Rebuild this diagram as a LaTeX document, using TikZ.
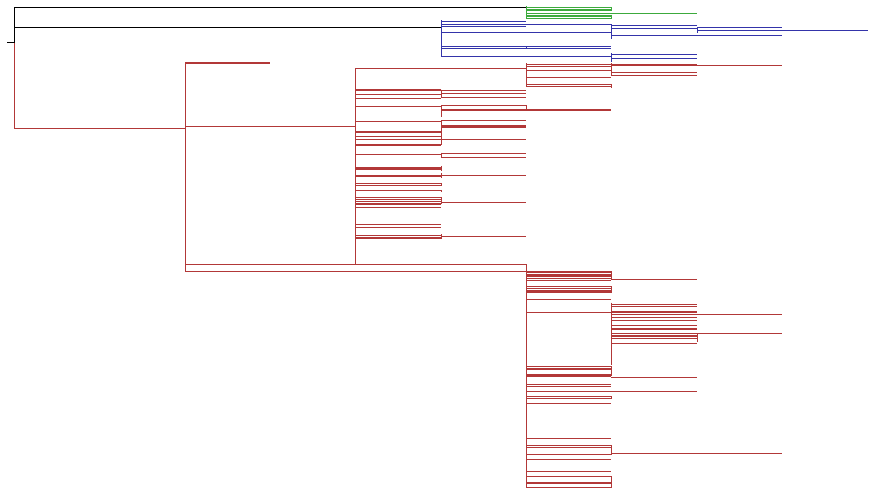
\documentclass[tikz,border=0pt]{standalone}
\definecolor{cladered}{RGB}{178,56,56}
\definecolor{cladeblue}{RGB}{52,52,170}
\definecolor{cladegreen}{RGB}{60,170,60}
\usetikzlibrary{positioning}
\tikzstyle{rootbr} = [
    draw=black,
    line width=1pt
]
\tikzstyle{redbr} = [
    draw=cladered,
    line width=1pt
]
\tikzstyle{bluebr} = [
    draw=cladeblue,
    line width=1pt
]
\tikzstyle{greenbr} = [
    draw=cladegreen,
    line width=1pt
]
\tikzstyle{dup} = [
    line width=2.2pt
]

\begin{document}
\begin{tikzpicture}[x=1pt, y=-1pt]
    \useasboundingbox (0,0) rectangle (874,494);

    % Root and backbone
    \coordinate (root) at (7,43);
    \coordinate (rootv) at (14,43);
    \draw[rootbr] (root) -- (rootv);
    \draw[rootbr] (14,8) -- (rootv);
    \draw[redbr] (rootv) -- (14,129);
    \draw[rootbr] (14,8) -- (526,8);
    \draw[rootbr] (14,28) -- (441,28);
    \draw[redbr] (14,129) -- (185,129);

    % Green clade
    \draw[greenbr] (526,6) -- (526,19.3);
    \foreach \y in {7.3,19}
        \draw[greenbr] (526,\y) -- (611,\y);
    \foreach \y in {10.3,16}
        \draw[greenbr, dup] (526,\y) -- (611,\y);
    \draw[greenbr] (526,13.3) -- (697,13.3);
    \draw[greenbr] (611,7.3) -- (611,11);
    \draw[greenbr] (611,14.7) -- (611,19.3);

    % Blue clade
    \draw[bluebr] (441,20.3) -- (441,56.3);
    \foreach \y in {21.3,26.3}
        \draw[bluebr] (441,\y) -- (526,\y);
    \foreach \y in {24.3,32.3,46.5,49,56.3}
        \draw[bluebr] (441,\y) -- (611,\y);
    \draw[bluebr] (526,46.3) -- (526,49.3);
    \draw[bluebr] (611,24.3) -- (611,39.3);
    \foreach \y in {25.3,28.3}
        \draw[bluebr] (611,\y) -- (697,\y);
    \draw[bluebr] (611,35.3) -- (782,35.3);
    \draw[bluebr] (697,27.3) -- (697,33.3);
    \draw[bluebr] (697,27.3) -- (782,27.3);
    \draw[bluebr] (697,30.3) -- (868,30.3);
    \draw[bluebr] (611,53.3) -- (611,61.7);
    \foreach \y in {54.3,58.3}
        \draw[bluebr] (611,\y) -- (697,\y);

    % Red clade, upper part
    \draw[redbr] (185,62.3) -- (185,271.3);
    \draw[redbr, dup] (185,62.8) -- (270,62.8);
    \draw[redbr] (185,126.3) -- (355,126.3);
    \draw[redbr] (355,68.3) -- (355,264);
    \draw[redbr] (355,68.3) -- (526,68.3);
    \draw[redbr] (526,63.3) -- (526,87);
    \foreach \y in {66.3,70.3,77.3,84.3,87}
        \draw[redbr] (526,\y) -- (611,\y);
    \draw[redbr] (526,64.3) -- (611,64.3);
    \draw[redbr] (611,63.3) -- (611,75.3);
    \draw[redbr, dup] (611,65.3) -- (697,65.3);
    \draw[redbr] (697,65.3) -- (782,65.3);
    \foreach \y in {72.3,75.3}
        \draw[redbr] (611,\y) -- (697,\y);
    \draw[redbr] (611,84) -- (611,88);

    % Red clade, leaves off 355
    \foreach \y in {95,99,107,122,136.7,139.3,154.3,170,183.7,185.7,191,
                    197.3,199.3,201.3,208,224,227,235.3}
        \draw[redbr] (355,\y) -- (441,\y);
    \foreach \y in {89.7,132.3,144.7,167.7,176.3,203.7,238.3}
        \draw[redbr, dup] (355,\y) -- (441,\y);
    \foreach \a/\b in {89.7/97.3,105.3/116.7,120.3/140,130/145,152.7/157.3,
                       166/171,173.3/178.3,183/186,190/192,197/204,234/239}
        \draw[redbr] (441,\a) -- (441,\b);
    \foreach \y in {90.3,93.3,97.3,105.3,121,140,153.3,157.3,175.3,203,236}
        \draw[redbr] (441,\y) -- (526,\y);
    \draw[redbr, line width=3.4pt] (441,126.7) -- (526,126.7);
    \draw[redbr, dup] (441,109.8) -- (611,109.8);
    \draw[redbr] (526,105.3) -- (526,109);

    % Red clade, lower part
    \draw[redbr] (185,264) -- (526,264);
    \draw[redbr] (185,271.3) -- (526,271.3);
    \draw[redbr] (526,264) -- (526,487.3);
    \foreach \y in {274,278,280,286.7,288.7,292.3,299.3,312.3,366.3,374,384.3,
                    386.3,391.3,396.3,398.3,403.3,438.3,445.3,447.3,454.3,
                    459.3,471,476.3,487.3}
        \draw[redbr] (526,\y) -- (611,\y);
    \foreach \y in {271.9,276,291,369,376,483.3}
        \draw[redbr, dup] (526,\y) -- (611,\y);
    \foreach \a/\b in {271/280,286/292.5,366/376,396/398.5,445/454.5,476/487.5}
        \draw[redbr] (611,\a) -- (611,\b);
    \foreach \y in {279.3,377.3,391.3}
        \draw[redbr] (611,\y) -- (697,\y);
    \draw[redbr] (611,302.7) -- (611,364.7);
    \foreach \y in {304.3,306,317.3,320,325.3,338.7,343.3}
        \draw[redbr] (611,\y) -- (697,\y);
    \foreach \y in {312.3,328.7,336}
        \draw[redbr, dup] (611,\y) -- (697,\y);
    \foreach \y in {314.3,333.3,453.3}
        \draw[redbr] (611,\y) -- (782,\y);
    \draw[redbr] (697,333.3) -- (697,341.7);
\end{tikzpicture}
\end{document}
